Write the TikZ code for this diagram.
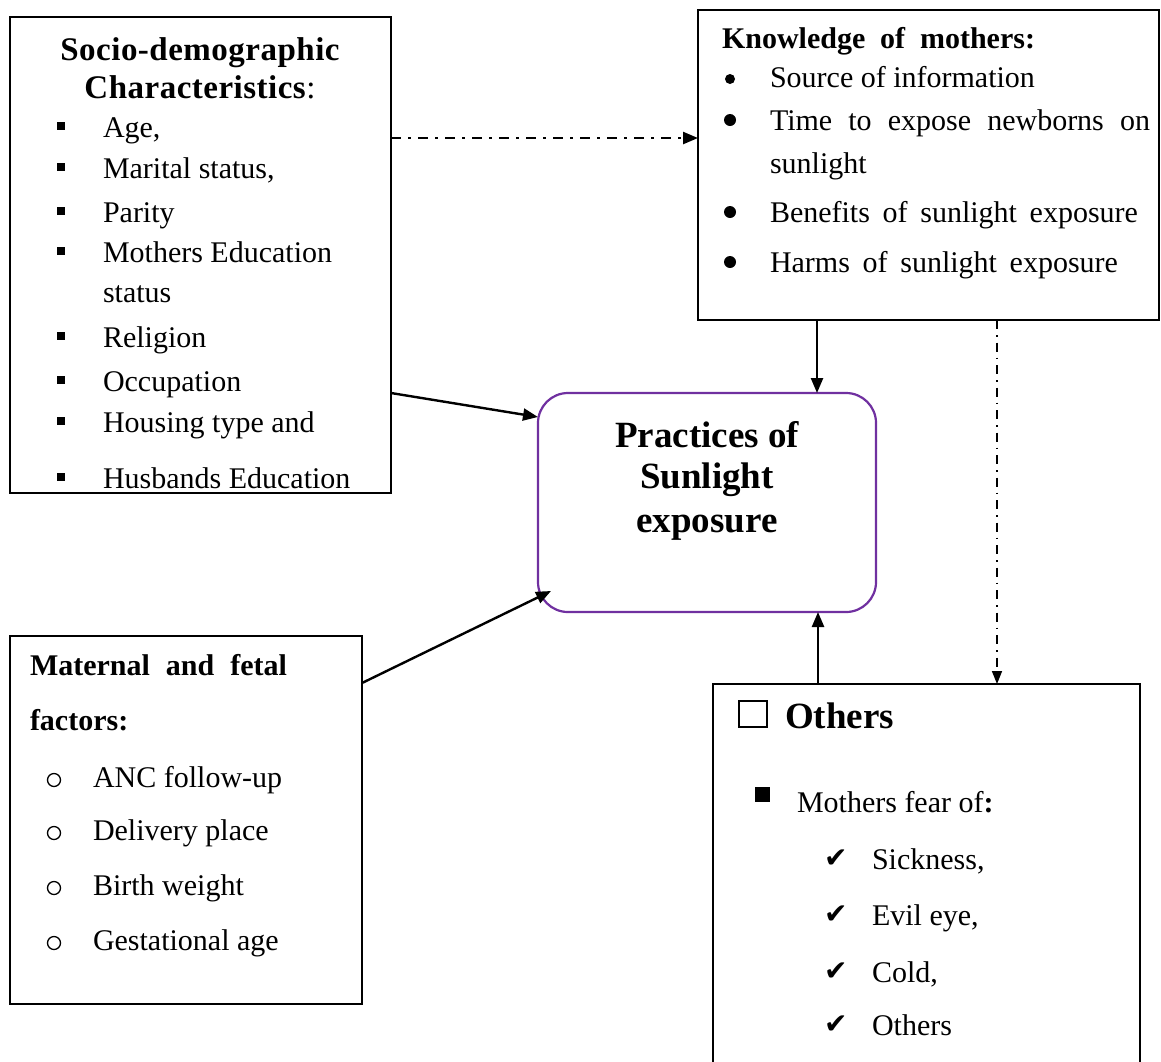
\documentclass[tikz,border=0pt]{standalone}
\usepackage{fontspec}
\setmainfont{Liberation Serif}
\newfontfamily\symfont{DejaVu Sans}
\newfontfamily\spacedfont[LetterSpace=1.5]{Liberation Serif}
\usetikzlibrary{arrows.meta}
\definecolor{boxpurple}{HTML}{7030A0}
\tikzset{
 frame/.style={draw=black, line width=2.2pt, inner sep=0pt, outer sep=0pt, anchor=north west},
 body/.style={font=\fontsize{30}{36}\selectfont, anchor=base west, inner sep=0pt, outer sep=0pt},
 hdr/.style={font=\fontsize{30}{36}\selectfont\bfseries, anchor=base west, inner sep=0pt, outer sep=0pt},
 big/.style={font=\fontsize{37}{44}\selectfont\bfseries, anchor=base, inner sep=0pt, outer sep=0pt},
 arr/.style={line width=2.4pt, -{Triangle[length=15pt,width=12pt]}},
 dd/.style={line width=2.4pt, dash pattern=on 10pt off 7pt on 3pt off 7pt, -{Triangle[length=15pt,width=12pt]}},
 ddv/.style={line width=1.6pt, dash pattern=on 9pt off 6pt on 1.5pt off 6pt, -{Triangle[length=13pt,width=10pt]}},
 sqb/.style={fill=black, minimum size=8pt, inner sep=0pt, outer sep=0pt},
 dotb/.style={circle, fill=black, minimum size=12pt, inner sep=0pt, outer sep=0pt},
 ringb/.style={circle, draw=black, line width=1.3pt, minimum width=13pt, minimum height=12pt, inner sep=0pt},
 chk/.style={font=\symfont\fontsize{28}{32}\selectfont, anchor=base west, inner sep=0pt, outer sep=0pt},
}
\begin{document}
\begin{tikzpicture}[x=1pt, y=-1pt]
\useasboundingbox (0,0) rectangle (1161,1061);
\clip (0,0) rectangle (1161,1061);
\fill[white] (0,0) rectangle (1161,1061);

% frames
\node[frame, minimum width=381pt, minimum height=476pt] (soc) at (10,17) {};
\node[frame, minimum width=461pt, minimum height=310pt] (know) at (698,10) {};
\node[frame, draw=boxpurple, rounded corners=30pt, minimum width=338pt, minimum height=219pt] (prac) at (538,393) {};
\node[frame, minimum width=352pt, minimum height=368pt] (mat) at (10,636) {};
\node[frame, minimum width=427pt, minimum height=420pt] (oth) at (713,684) {};

% socio-demographic box
\node[font=\spacedfont\fontsize{33}{40}\selectfont\bfseries, anchor=base, inner sep=0pt] (sochead1) at (200,60) {Socio-demographic};
\node[font=\spacedfont\fontsize{33}{40}\selectfont, anchor=base, inner sep=0pt] (sochead2) at (200,98) {\textbf{Characteristics}:};
\node[sqb] (sb1) at (61,126) {};
\node[body] (s1) at (103,137) {Age,};
\node[sqb] (sb2) at (61,167) {};
\node[body] (s2) at (103,178) {Marital status,};
\node[sqb] (sb3) at (61,211) {};
\node[body] (s3) at (103,222) {Parity};
\node[sqb] (sb4) at (61,251) {};
\node[body] (s4) at (103,262) {Mothers Education};
\node[body] (s4b) at (103,302) {status};
\node[sqb] (sb5) at (61,336) {};
\node[body] (s5) at (103,347) {Religion};
\node[sqb] (sb6) at (61,380) {};
\node[body] (s6) at (103,391) {Occupation};
\node[sqb] (sb7) at (61,421) {};
\node[body] (s7) at (103,432) {Housing type and};
\node[sqb] (sb8) at (61,477) {};
\node[body] (s8) at (103,488) {Husbands Education};

% knowledge box
\node[hdr] (khead) at (722,48) {\hbox to 313pt{Knowledge\hfill of\hfill mothers:}};
\node[dotb, minimum size=10pt] (kb1) at (730,79) {};
\node[body] (k1) at (770,87) {Source of information};
\node[dotb] (kb2) at (730,120) {};
\node[body] (k2) at (770,130) {\hbox to 380pt{Time\hfill to\hfill expose\hfill newborns\hfill on}};
\node[body] (k2b) at (770,173) {sunlight};
\node[dotb] (kb3) at (730,212) {};
\node[body] (k3) at (770,222) {\hbox to 368pt{Benefits\hfill of\hfill sunlight\hfill exposure}};
\node[dotb] (kb4) at (730,262) {};
\node[body] (k4) at (770,272) {\hbox to 348pt{Harms\hfill of\hfill sunlight\hfill exposure}};

% practices box
\node[big] (p1) at (707,447) {Practices of};
\node[big] (p2) at (707,488) {Sunlight};
\node[big] (p3) at (707,532) {exposure};

% maternal box
\node[hdr] (mhead1) at (30,675) {\hbox to 257pt{Maternal\hfill and\hfill fetal}};
\node[hdr] (mhead2) at (30,730) {factors:};
\node[ringb] (mb1) at (54,780) {};
\node[body] (m1) at (93,787) {ANC follow-up};
\node[ringb] (mb2) at (54,833) {};
\node[body] (m2) at (93,840) {Delivery place};
\node[ringb] (mb3) at (54,888) {};
\node[body] (m3) at (93,895) {Birth weight};
\node[ringb] (mb4) at (54,943) {};
\node[body] (m4) at (93,950) {Gestational age};

% others box
\node[draw=black, line width=2.5pt, minimum width=28pt, minimum height=26pt, inner sep=0pt] (obox) at (753,714) {};
\node[font=\fontsize{37}{44}\selectfont\bfseries, anchor=base west, inner sep=0pt] (ohead) at (785,728) {Others};
\node[fill=black, minimum size=15pt, inner sep=0pt] (osq) at (762.5,794.5) {};
\node[body] (o0) at (797,812) {Mothers fear of\textbf{:}};
\node[chk] (c1) at (824,867) {✔};
\node[body] (o1) at (872,869) {Sickness,};
\node[chk] (c2) at (824,923) {✔};
\node[body] (o2) at (872,925) {Evil eye,};
\node[chk] (c3) at (824,980) {✔};
\node[body] (o3) at (872,982) {Cold,};
\node[chk] (c4) at (824,1033) {✔};
\node[body] (o4) at (872,1035) {Others};

% connectors
\draw[dd] (soc.east |- 0,138) -- (know.west |- 0,138);
\draw[arr] (know.south -| 817,0) -- (prac.north -| 817,0);
\draw[arr] (soc.east |- 0,393) -- (prac.west |- 0,417);
\coordinate (pin) at ([shift={(13,-21)}]prac.south west);
\draw[arr] (mat.east |- 0,683) -- (pin);
\draw[arr] (oth.north -| 818,0) -- (prac.south -| 818,0);
\draw[ddv] (know.south -| 997,0) -- (oth.north -| 997,0);
\end{tikzpicture}
\end{document}
